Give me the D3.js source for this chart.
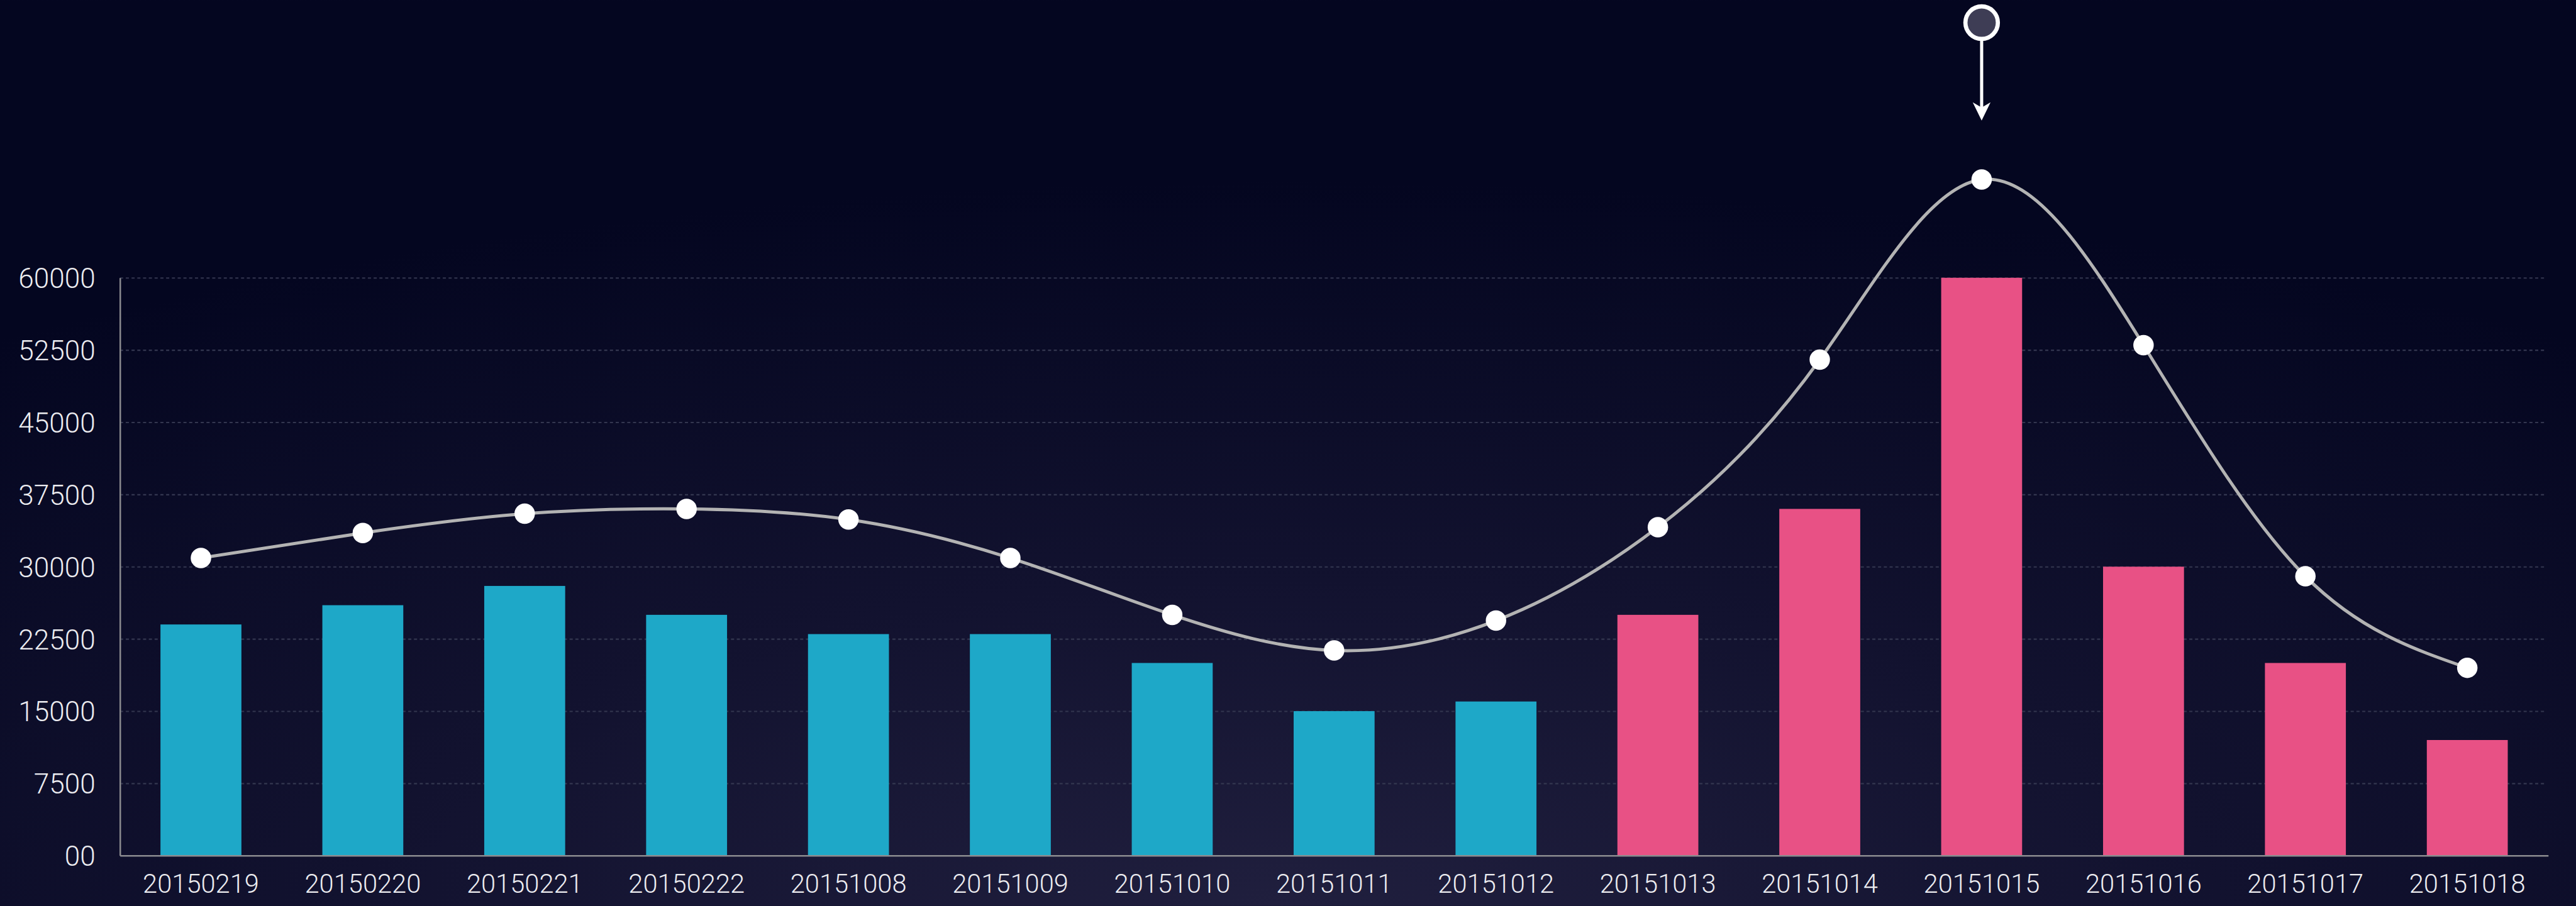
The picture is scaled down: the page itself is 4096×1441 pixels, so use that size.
<!DOCTYPE html>
<html>
<head>
<meta charset="utf-8">
<script src="https://cdn.jsdelivr.net/npm/d3@7"></script>
<style>
  html, body { margin: 0; padding: 0; background: #050722; overflow: hidden; }
  .chart { width: 4096px; height: 1441px; }
  text { font-family: Roboto, "Liberation Sans", sans-serif; font-weight: 300; fill: #ececf0; }
</style>
</head>
<body>
<div class="chart"></div>
<script>
// data
var categories = ["20150219", "20150220", "20150221", "20150222", "20151008", "20151009", "20151010",
                  "20151011", "20151012", "20151013", "20151014", "20151015", "20151016", "20151017", "20151018"];
var barValues  = [24000, 26000, 28000, 25000, 23000, 23000, 20000, 15000, 16000, 25000, 36000, 60000, 30000, 20000, 12000];
var lineValues = [30900, 33500, 35500, 36000, 34900, 30900, 25000, 21300, 24400, 34100, 51500, 70200, 53000, 29000, 19500];
var barGroups  = ["old", "old", "old", "old", "old", "old", "old", "old", "old", "new", "new", "new", "new", "new", "new"];
var yTicks      = [0, 7500, 15000, 22500, 30000, 37500, 45000, 52500, 60000];
var yTickLabels = ["00", "7500", "15000", "22500", "30000", "37500", "45000", "52500", "60000"];
var markedCategory = "20151015";

// drawn in the reference's own pixel space, scaled down by the viewBox
var W = 4916, H = 1729;
var plotLeft = 229, plotRight = 4863, plotTop = 530, plotBottom = 1633;

var svg = d3.select(".chart")
            .append("svg")
            .attr("width", 4096)
            .attr("height", 1441)
            .attr("viewBox", "0 0 " + W + " " + H);

var defs = svg.append("defs");
var bg = defs.append("radialGradient")
    .attr("id", "bg")
    .attr("cx", "50%").attr("cy", "100%")
    .attr("r", "80%");
bg.append("stop").attr("offset", "0%").attr("stop-color", "#201f3e");
bg.append("stop").attr("offset", "45%").attr("stop-color", "#12122f");
bg.append("stop").attr("offset", "100%").attr("stop-color", "#040620");

svg.append("rect")
    .attr("width", W)
    .attr("height", H)
    .attr("fill", "url(#bg)");

var x = d3.scaleBand()
          .domain(categories)
          .range([plotLeft, plotRight])
          .paddingInner(0.5)
          .paddingOuter(0.25);

var y = d3.scaleLinear()
          .domain([0, 60000])
          .range([plotBottom, plotTop]);

var color = d3.scaleOrdinal()
              .domain(["old", "new"])
              .range(["#1ea8c8", "#e85185"]);

// dashed grid lines
var grid = svg.append("g")
    .attr("transform", "translate(" + plotLeft + ",0)")
    .call(d3.axisLeft(y).tickValues(yTicks.slice(1)).tickSize(-(plotRight - plotLeft - 8)).tickFormat(""));
grid.select(".domain").remove();
grid.selectAll("line")
    .attr("stroke", "#33364f")
    .attr("stroke-width", 2.5)
    .attr("stroke-dasharray", "6,5");

// bars
svg.append("g")
    .selectAll("rect")
    .data(barValues)
    .enter().append("rect")
    .attr("x", function(d, i) { return x(categories[i]); })
    .attr("width", x.bandwidth())
    .attr("y", function(d) { return y(d); })
    .attr("height", function(d) { return y(0) - y(d); })
    .attr("fill", function(d, i) { return color(barGroups[i]); });

// y axis
var yAxis = svg.append("g")
    .attr("transform", "translate(" + plotLeft + ",0)")
    .call(d3.axisLeft(y)
            .tickValues(yTicks)
            .tickSize(0)
            .tickPadding(47)
            .tickFormat(function(d, i) { return yTickLabels[i]; }));
yAxis.select(".domain").attr("stroke", "#8c8c90").attr("stroke-width", 3);
yAxis.selectAll("text").attr("font-size", 53).attr("dy", "0.36em");

// x axis
var xAxis = svg.append("g")
    .attr("transform", "translate(0," + plotBottom + ")")
    .call(d3.axisBottom(x).tickSize(0).tickPadding(36));
xAxis.select(".domain").attr("stroke", "#8c8c90").attr("stroke-width", 3);
xAxis.selectAll("text").attr("font-size", 50);

// smooth line with dots - natural spline gives the fuller peak of the original
var line = d3.line()
    .x(function(d, i) { return x(categories[i]) + x.bandwidth() / 2; })
    .y(function(d) { return y(d); })
    .curve(d3.curveNatural);

svg.append("path")
    .datum(lineValues)
    .attr("d", line)
    .attr("fill", "none")
    .attr("stroke", "#b3b3b3")
    .attr("stroke-width", 6);

svg.append("g")
    .selectAll("circle")
    .data(lineValues)
    .enter().append("circle")
    .attr("cx", function(d, i) { return x(categories[i]) + x.bandwidth() / 2; })
    .attr("cy", function(d) { return y(d); })
    .attr("r", 19.5)
    .attr("fill", "#ffffff");

// pin marker above the peak
var mx = x(markedCategory) + x.bandwidth() / 2;
var pin = svg.append("g").attr("transform", "translate(" + mx + ",0)");
pin.append("line")
    .attr("x1", 0).attr("x2", 0)
    .attr("y1", 76).attr("y2", 210)
    .attr("stroke", "#ffffff")
    .attr("stroke-width", 6);
pin.append("path")
    .attr("d", "M0,230 L-17,195 L0,205 L17,195 Z")
    .attr("fill", "#ffffff");
pin.append("circle")
    .attr("cy", 43)
    .attr("r", 31)
    .attr("fill", "#3e3d55")
    .attr("stroke", "#ffffff")
    .attr("stroke-width", 8);
</script>
</body>
</html>
